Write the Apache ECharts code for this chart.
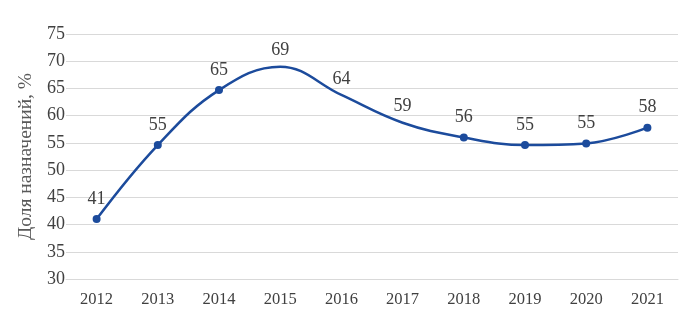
<!DOCTYPE html>
<html><head><meta charset="utf-8">
<script src="https://cdn.jsdelivr.net/npm/echarts@6/dist/echarts.min.js"></script>
<style>html,body{margin:0;padding:0;background:#fff}#c{width:700px;height:330px}</style>
</head><body><div id="c"></div>
<script>
const categories = ['2012','2013','2014','2015','2016','2017','2018','2019','2020','2021'];
const values = [41.0, 54.6, 64.7, 69.0, 63.8, 58.7, 56.0, 54.6, 54.9, 57.8];
const markerShown = [true, true, true, false, false, false, true, true, true, true];
const yAxisName = 'Доля назначений, %';

const chart = echarts.init(document.getElementById('c'), null, {renderer:'canvas'});
const font = 'Liberation Serif';
chart.setOption({
  animation: false,
  grid: {left: 66, right: 22, top: 34, bottom: 51},
  xAxis: {
    type: 'category', data: categories, boundaryGap: true,
    axisLine: {lineStyle: {color: '#d9d9d9', width: 1}},
    axisTick: {show: false},
    axisLabel: {fontFamily: font, fontSize: 16.5, color: '#404040', margin: 12}
  },
  yAxis: {
    type: 'value', min: 30, max: 75, interval: 5,
    name: yAxisName, nameLocation: 'middle', nameGap: 30, nameRotate: 90,
    nameTextStyle: {fontFamily: font, fontSize: 19.5, color: '#595959'},
    axisLine: {show: false}, axisTick: {show: false},
    splitLine: {lineStyle: {color: '#d9d9d9', width: 1}},
    axisLabel: {fontFamily: font, fontSize: 18, color: '#404040', margin: 1}
  },
  series: [{
    type: 'line', smooth: 0.4,
    data: values.map((v, i) => ({value: v, symbolSize: markerShown[i] ? 8 : 0})),
    symbol: 'circle',
    lineStyle: {color: '#1c4b9c', width: 2.5},
    itemStyle: {color: '#1c4b9c'},
    label: {show: true, position: 'top', distance: 7, fontFamily: font, fontSize: 18, color: '#404040',
      formatter: p => Math.round(p.value)}
  }]
});
</script></body></html>
